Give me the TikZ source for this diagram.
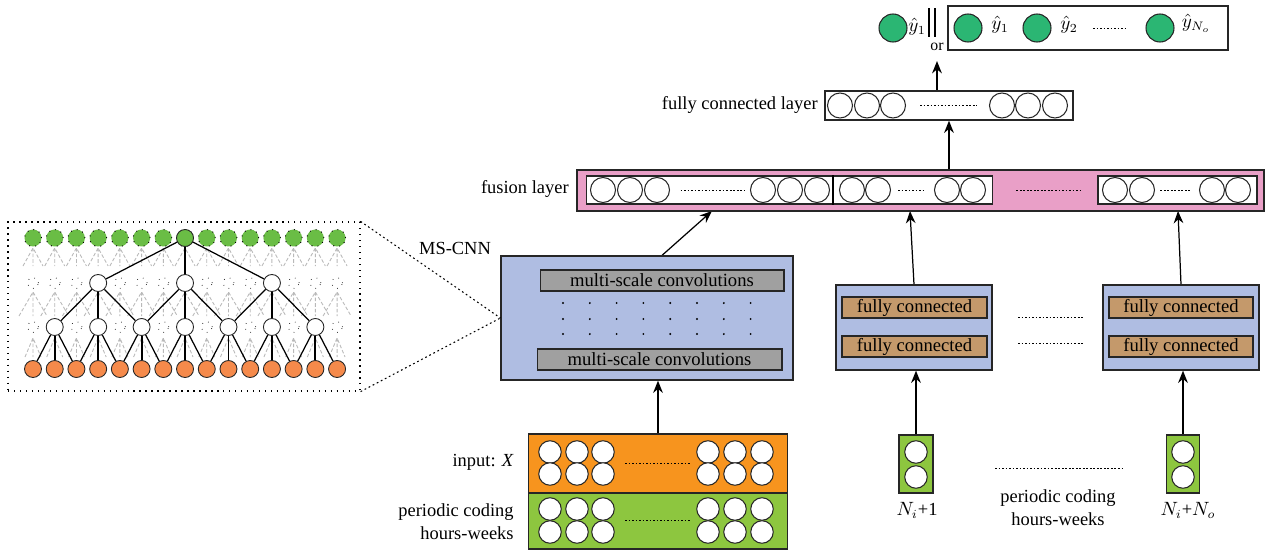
\documentclass[tikz,border=0pt]{standalone}
\usepackage{fontspec}
\setmainfont{Liberation Serif}
\usepackage{amsmath}
\usepackage{tikz}
\usetikzlibrary{positioning}
\usetikzlibrary{arrows.meta}
\pgfdeclarelayer{edgelayer}
\pgfsetlayers{edgelayer,main}
\definecolor{msblue}{HTML}{AFBDE2}
\definecolor{convgray}{HTML}{A0A0A0}
\definecolor{fcbrown}{HTML}{C4996B}
\definecolor{fusepink}{HTML}{E99FC7}
\definecolor{inorange}{HTML}{F7941E}
\definecolor{ingreen}{HTML}{8DC63F}
\definecolor{tgreen}{HTML}{6ABD45}
\definecolor{torange}{HTML}{F58A4B}
\definecolor{outgreen}{HTML}{2BB673}
\tikzset{
    none/.style = {inner sep=0pt},
    box/.style = {draw=black!85, line width=0.7pt, inner sep=0pt},
    bar/.style = {box, line width=0.6pt, font=\fontsize{10.6}{12}\selectfont},
    unit/.style = {circle, draw=black!85, fill=white, line width=0.6pt, inner sep=0pt, minimum size=0.5cm},
    inunit/.style = {unit, minimum size=0.45cm},
    outunit/.style = {unit, fill=outgreen, minimum size=0.56cm},
    tnode/.style = {circle, draw=black!85, fill=white, line width=0.5pt, inner sep=0pt, minimum size=0.34cm},
    ghost/.style = {circle, draw=black!80, dash pattern=on 0.4pt off 3.2pt, line width=0.5pt, inner sep=0pt, minimum size=0.22cm},
    lbl/.style = {inner sep=0pt, font=\fontsize{10.5}{13}\selectfont},
    gap/.style = {dash pattern=on 1pt off 1pt, line width=0.5pt},
    flow/.style = {-{Stealth[length=7pt, width=5.5pt]}, line width=1.1pt},
    haze/.style = {gray!55, dash pattern=on 2pt off 1.2pt, line width=0.5pt}
}
% light texture of the unused connections
\newcommand{\hazeband}[3]{%
  \foreach \i in {0,...,14}
    \draw[haze] (33+21.72*\i-#3, #2) -- (33+21.72*\i, #1) -- (33+21.72*\i+#3, #2)
                (33+21.72*\i, #1) -- (33+21.72*\i, #2);}

\begin{document}
\begin{tikzpicture}[x=0.02cm, y=-0.02cm]
  \useasboundingbox (0,0) rectangle (1269,551);

  % inset: dilated convolutions
  \node [box, draw=black, dash pattern=on 0.8pt off 2.6pt, minimum width=7.04cm, minimum height=3.38cm] (zoom) at (184,306.5) {};
  \foreach \i in {0,...,14} {
    \node [tnode, fill=tgreen, draw=black, dash pattern=on 0.6pt off 2.8pt] (g\i) at (33+21.72*\i, 238) {};
    \node [tnode, fill=torange] (o\i) at (33+21.72*\i, 369) {};
  }
  \node [tnode, fill=tgreen] (g7) at (33+21.72*7, 238) {};
  \foreach \i in {3,7,11}
    \node [tnode] (m\i) at (33+21.72*\i, 283) {};
  \foreach \i in {0,1,2,4,5,6,8,9,10,12,13,14}
    \node [ghost] (mx\i) at (33+21.72*\i, 283) {};
  \foreach \i in {1,3,...,13}
    \node [tnode] (l\i) at (33+21.72*\i, 327) {};
  \foreach \i in {0,2,...,14}
    \node [ghost] (lx\i) at (33+21.72*\i, 327) {};

  \begin{pgfonlayer}{edgelayer}
    \hazeband{248}{266}{10}
    \hazeband{292}{316}{14}
    \hazeband{338}{357}{8}
    \draw [line width=0.7pt] (g7) to (m3);
    \draw [line width=0.7pt] (g7) to (m11);
    \draw [line width=1pt] (g7) to (m7);
    \foreach \a/\b/\c in {3/1/5, 7/5/9, 11/9/13} {
      \draw [line width=0.7pt] (m\a) to (l\b);
      \draw [line width=0.7pt] (m\a) to (l\c);
      \draw [line width=1.1pt] (m\a) to (l\a);
    }
    \foreach \k [evaluate=\k as \p using int(\k-1), evaluate=\k as \q using int(\k+1)] in {1,3,...,13} {
      \draw [line width=0.7pt] (l\k) to (o\p);
      \draw [line width=0.7pt] (l\k) to (o\q);
      \draw [line width=1.1pt] (l\k) to (o\k);
    }
  \end{pgfonlayer}

  % MS-CNN
  \node [box, fill=msblue, minimum width=5.84cm, minimum height=2.48cm] (mscnn) at (647,318) {};
  \node [lbl] (mslbl) at (455,248) {MS-CNN};
  \node [bar, fill=convgray, minimum width=4.88cm, minimum height=0.42cm] (conv1) at (662,280.5) {multi-scale convolutions};
  \node [bar, fill=convgray, minimum width=4.9cm, minimum height=0.42cm] (conv2) at (659.5,359.5) {multi-scale convolutions};
  \foreach \c in {0,...,7}
    \foreach \r in {303,319,334}
      \fill (563+26.8*\c, \r) circle (0.6pt);
  \draw [dash pattern=on 1pt off 1.6pt, line width=0.6pt] (zoom.north east) to (mscnn.west);
  \draw [dash pattern=on 1pt off 1.6pt, line width=0.6pt] (zoom.south east) to (mscnn.west);

  % input
  \node [box, fill=inorange, minimum width=5.18cm, minimum height=1.18cm] (inor) at (658,463.5) {};
  \node [box, fill=ingreen, minimum width=5.18cm, minimum height=1.12cm] (ingr) at (658,521) {};
  \foreach \x [count=\k] in {550,577,603,708,735,762} {
    \node [inunit] (ia\k) at (\x,452) {};
    \node [inunit] (ib\k) at (\x,474) {};
    \node [inunit] (ic\k) at (\x,509) {};
    \node [inunit] (id\k) at (\x,532) {};
  }
  \draw [gap] (625,463) -- (690,463);
  \draw [gap] (625,520) -- (690,520);
  \node [lbl, anchor=east] (inlbl) at (514,462) {input: \textit{X}};
  \node [lbl, anchor=east, align=right] (pclbl) at (514,522) {periodic coding\\hours-weeks};

  % periodic coding branches
  \node [box, fill=msblue, minimum width=3.12cm, minimum height=1.7cm] (fcb1) at (914,327.5) {};
  \node [bar, fill=fcbrown, minimum width=2.9cm, minimum height=0.42cm] (fc11) at (914.5,307.5) {fully connected};
  \node [bar, fill=fcbrown, minimum width=2.9cm, minimum height=0.42cm] (fc12) at (914.5,346.5) {fully connected};
  \node [box, fill=msblue, minimum width=3.12cm, minimum height=1.7cm] (fcb2) at (1181,327.5) {};
  \node [bar, fill=fcbrown, minimum width=2.88cm, minimum height=0.42cm] (fc21) at (1181,307.5) {fully connected};
  \node [bar, fill=fcbrown, minimum width=2.88cm, minimum height=0.42cm] (fc22) at (1181,346.5) {fully connected};
  \draw [gap] (1018,317) -- (1083,317);
  \draw [gap] (1018,343) -- (1083,343);

  \node [box, fill=ingreen, minimum width=0.68cm, minimum height=1.16cm] (col1) at (916,464) {};
  \node [inunit] (c11) at (916,452) {};
  \node [inunit] (c12) at (916,477) {};
  \node [box, fill=ingreen, minimum width=0.66cm, minimum height=1.16cm] (col2) at (1183,464) {};
  \node [inunit] (c21) at (1183,452) {};
  \node [inunit] (c22) at (1183,477) {};
  \draw [gap] (995,468) -- (1122,468);
  \node [lbl] (n1lbl) at (917,510) {$N_i$+1};
  \node [lbl] (n2lbl) at (1188,510) {$N_i$+$N_o$};
  \node [lbl, align=center] (pc2lbl) at (1058,508) {periodic coding\\hours-weeks};

  % fusion layer
  \node [box, fill=fusepink, minimum width=13.74cm, minimum height=0.82cm] (fus) at (920.5,190.5) {};
  \node [box, fill=white, line width=0.6pt, minimum width=8.14cm, minimum height=0.56cm] (fw1) at (789.5,190) {};
  \node [box, fill=white, line width=0.6pt, minimum width=3.18cm, minimum height=0.56cm] (fw2) at (1177.5,190) {};
  \draw [line width=0.6pt] (fw1.north -| 833,0) -- (fw1.south -| 833,0);
  \foreach \x [count=\k] in {603,630,657,763,790,817,852,878,947,973,1115,1142,1212,1238}
    \node [unit] (fu\k) at (\x,190) {};
  \draw [gap, shorten <=6pt, shorten >=3pt] (fu3) to (fu4);
  \draw [gap, shorten <=4pt, shorten >=5pt] (fu8) to (fu9);
  \draw [gap, shorten <=3pt, shorten >=5pt] (fu12) to (fu13);
  \draw [gap, shorten <=13pt, shorten >=9pt] (fw1) to (fw2);
  \node [lbl, anchor=east] (fuslbl) at (569,189) {fusion layer};

  % fully connected layer
  \node [box, fill=white, minimum width=4.96cm, minimum height=0.58cm] (fcl) at (949,105.5) {};
  \foreach \x [count=\k] in {840,867,893,1002,1028,1055}
    \node [unit] (fl\k) at (\x,105.5) {};
  \draw [gap, shorten <=8pt, shorten >=7pt] (fl3) to (fl4);
  \node [lbl, anchor=east] (fcllbl) at (818,105) {fully connected layer};

  % output
  \node [outunit] (y0) at (893,28) {};
  \node [lbl] (y0lbl) at (917,27) {$\hat{y}_1$};
  \draw [line width=1.5pt] (929,8) -- (929,37);
  \draw [line width=1.5pt] (935,8) -- (935,37);
  \node [none, font=\fontsize{9}{10}\selectfont] (orlbl) at (937,47) {or};
  \node [box, fill=white, minimum width=5.6cm, minimum height=0.88cm] (ybox) at (1088,28) {};
  \node [outunit] (y1) at (968,28) {};
  \node [outunit] (y2) at (1037,28) {};
  \node [outunit] (y3) at (1160,28) {};
  \node [lbl] (y1lbl) at (1000,25) {$\hat{y}_1$};
  \node [lbl] (y2lbl) at (1069,25) {$\hat{y}_2$};
  \node [lbl] (y3lbl) at (1196,23) {$\hat{y}_{N_o}$};
  \draw [gap] (1093,28) -- (1125,28);

  % connections
  \coordinate (fin1) at (712,211);
  \coordinate (fin2) at (910,211);
  \coordinate (fin3) at (1178,211);
  \coordinate (ortip) at (937,61);
  \begin{pgfonlayer}{edgelayer}
    \draw [flow] (inor.north) to (inor.north |- mscnn.south);
    \draw [flow, line width=0.7pt] (conv1.north |- mscnn.north) to (fin1);
    \draw [flow, line width=0.7pt] (fcb1.north) to (fin2);
    \draw [flow, line width=0.7pt] (fcb2.north) to (fin3);
    \draw [flow] (col1.north) to (col1.north |- fcb1.south);
    \draw [flow] (col2.north) to (col2.north |- fcb2.south);
    \draw [flow] (fcl.south |- fus.north) to (fcl.south);
    \draw [flow] (ortip |- fcl.north) to (ortip);
  \end{pgfonlayer}
\end{tikzpicture}
\end{document}
